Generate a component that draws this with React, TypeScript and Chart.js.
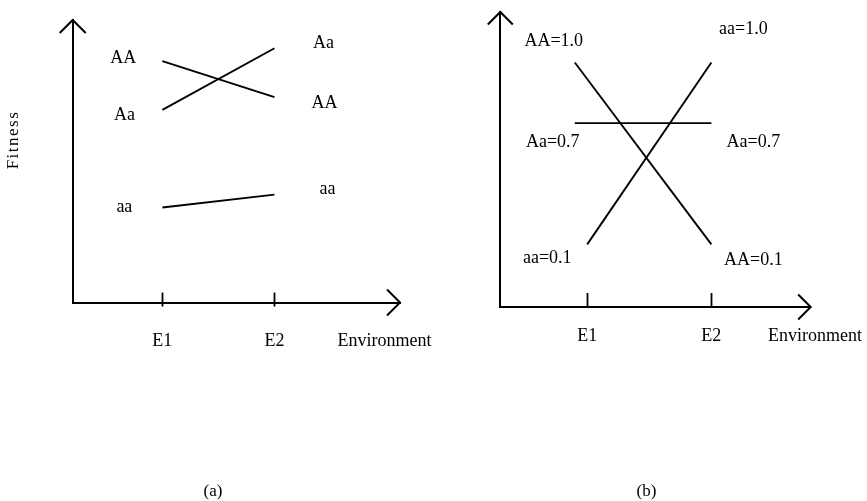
import React, { useEffect, useRef } from 'react';
import { Chart, registerables } from 'chart.js';

Chart.register(...registerables);

// ---------- data ----------
const environments = ['E1', 'E2'];
const envValues = [1, 2];
const xAxisName = 'Environment';
const yAxisName = 'Fitness';
const genotypes = ['AA', 'Aa', 'aa'];
const panelNames = ['(a)', '(b)'];

// Panel (a): relative fitness (arbitrary units) in E1, E2
const aAAx = [1, 2];
const aAA = [0.94, 0.8];
const aAax = [1, 2];
const aAa = [0.75, 0.99];
const aaax = [1, 2];
const aaa = [0.37, 0.42];

// Panel (b): fitness values in E1, E2
const bAAx = [0.9, 2];
const bAA = [1.0, 0.1];
const bAax = [0.9, 2];
const bAa = [0.7, 0.7];
const baax = [1, 2];
const baa = [0.1, 1.0];

// ---------- styling ----------
const FONT = "'Liberation Serif', 'Times New Roman', Times, serif";
const BLACK = '#000';

type Ann = { ds: number; pt: number; text: string; dx: number; dy: number };

function lineDs(label: string, xs: number[], ys: number[]) {
  return {
    label,
    data: ys.map((v, i) => ({ x: xs[i], y: v })),
    borderColor: BLACK,
    backgroundColor: BLACK,
    borderWidth: 1.9,
    pointRadius: 0,
    tension: 0,
    fill: false,
  };
}

function decoPlugin(p: any) {
  return {
    id: 'deco',
    afterDraw(chart: any) {
      const { ctx, chartArea } = chart;
      const xs = chart.scales.x;
      const L = chartArea.left, R = chartArea.right, T = chartArea.top, B = chartArea.bottom;
      ctx.save();
      ctx.strokeStyle = BLACK;
      ctx.fillStyle = BLACK;
      ctx.lineWidth = 2;
      ctx.lineJoin = 'miter';
      const a = p.arrow;
      ctx.beginPath();
      ctx.moveTo(L - a, T + a);
      ctx.lineTo(L, T);
      ctx.lineTo(L + a, T + a);
      ctx.moveTo(R - a, B - a);
      ctx.lineTo(R, B);
      ctx.lineTo(R - a, B + a);
      ctx.stroke();
      // tick marks
      ctx.beginPath();
      envValues.forEach((v) => {
        const px = Math.round(xs.getPixelForValue(v)) + 0.5;
        ctx.moveTo(px, B - p.tickUp);
        ctx.lineTo(px, B + p.tickDown);
      });
      ctx.lineWidth = 1.8;
      ctx.stroke();
      // point labels
      ctx.font = `${p.labelSize}px ${FONT}`;
      ctx.textAlign = 'center';
      ctx.textBaseline = 'middle';
      p.anns.forEach((an: Ann) => {
        const el = chart.getDatasetMeta(an.ds).data[an.pt];
        ctx.fillText(an.text, el.x + an.dx, el.y + an.dy);
      });
      // x-axis name
      ctx.font = `${p.envSize}px ${FONT}`;
      ctx.fillText(xAxisName, R + p.envDx, B + p.envDy);
      // panel name
      ctx.font = `17px ${FONT}`;
      ctx.fillText(p.panel, p.panelX, p.panelY);
      // y-axis name
      if (p.yName) {
        ctx.save();
        ctx.translate(p.yNameX, p.yNameY);
        ctx.rotate(-Math.PI / 2);
        ctx.font = `17px ${FONT}`;
        try { (ctx as any).letterSpacing = '1.5px'; } catch (e) {}
        ctx.fillText(yAxisName, 0, 0);
        ctx.restore();
      }
      ctx.restore();
    },
  };
}

function buildConfig(p: any, datasets: any[]) {
  return {
    type: 'line' as const,
    data: { datasets },
    options: {
      responsive: false,
      animation: false as const,
      layout: { padding: { top: p.top, right: p.right, left: 0, bottom: 0 } },
      plugins: {
        legend: { display: false },
        tooltip: { enabled: false },
        title: { display: false },
      },
      scales: {
        x: {
          type: 'linear' as const,
          min: p.xMin,
          max: p.xMax,
          grid: { display: false, drawTicks: false },
          border: { display: true, color: BLACK, width: 2 },
          afterBuildTicks: (s: any) => {
            s.ticks = envValues.map((v) => ({ value: v }));
          },
          afterFit: (s: any) => {
            s.height = p.xHeight;
          },
          ticks: {
            color: BLACK,
            autoSkip: false,
            maxRotation: 0,
            padding: p.tickPad,
            font: { family: FONT, size: 18 },
            callback: (_v: any, i: number) => environments[i],
          },
        },
        y: {
          type: 'linear' as const,
          min: p.yMin,
          max: p.yMax,
          grid: { display: false, drawTicks: false },
          border: { display: true, color: BLACK, width: 2 },
          ticks: { display: false },
          afterFit: (s: any) => {
            s.width = p.yWidth;
          },
        },
      },
    },
    plugins: [decoPlugin(p)],
  };
}

function Panel({ left, width, make }: { left: number; width: number; make: () => any }) {
  const ref = useRef<HTMLCanvasElement>(null);
  useEffect(() => {
    const chart = new Chart(ref.current as HTMLCanvasElement, make());
    return () => chart.destroy();
  }, []);
  return (
    <canvas
      ref={ref}
      width={width}
      height={501}
      style={{ position: 'absolute', left, top: 0, width, height: 501 }}
    />
  );
}

const A_WIDTH = 446;

const makeA = () => {
  const anns: Ann[] = [
    { ds: 0, pt: 0, text: genotypes[0], dx: -39, dy: -3 },
    { ds: 1, pt: 0, text: genotypes[1], dx: -38, dy: 5 },
    { ds: 2, pt: 0, text: genotypes[2], dx: -38, dy: 0 },
    { ds: 1, pt: 1, text: genotypes[1], dx: 49, dy: -5 },
    { ds: 0, pt: 1, text: genotypes[0], dx: 50, dy: 6 },
    { ds: 2, pt: 1, text: genotypes[2], dx: 53, dy: -5 },
  ];
  const p = {
    top: 20, right: A_WIDTH - 400, yWidth: 72.7, xHeight: 501 - 302.5,
    xMin: 0.2, xMax: 3.12, yMin: 0, yMax: 1.1,
    tickPad: 28, arrow: 13, tickUp: 10, tickDown: 4,
    labelSize: 18, anns, envSize: 18, envDx: -15.5, envDy: 38.5,
    panel: panelNames[0], panelX: 213, panelY: 492,
    yName: true, yNameX: 14, yNameY: 140,
  };
  return buildConfig(p, [
    lineDs(genotypes[0], aAAx, aAA),
    lineDs(genotypes[1], aAax, aAa),
    lineDs(genotypes[2], aaax, aaa),
  ]);
};

const makeB = () => {
  const lbl = (g: number, v: number) => `${genotypes[g]}=${v.toFixed(1)}`;
  const anns: Ann[] = [
    { ds: 0, pt: 0, text: lbl(0, bAA[0]), dx: -21, dy: -21 },
    { ds: 2, pt: 1, text: lbl(2, baa[1]), dx: 32, dy: -33 },
    { ds: 1, pt: 0, text: lbl(1, bAa[0]), dx: -22, dy: 19 },
    { ds: 1, pt: 1, text: lbl(1, bAa[1]), dx: 42, dy: 19 },
    { ds: 2, pt: 0, text: lbl(2, baa[0]), dx: -40, dy: 14 },
    { ds: 0, pt: 1, text: lbl(0, bAA[1]), dx: 42, dy: 16 },
  ];
  const p = {
    top: 12, right: 441 - 384.7, yWidth: 74.3, xHeight: 501 - 307,
    xMin: 0.3, xMax: 2.8, yMin: -0.21, yMax: 1.25,
    tickPad: 18, arrow: 12.5, tickUp: 14, tickDown: 0,
    labelSize: 18, anns, envSize: 18, envDx: 4.3, envDy: 29,
    panel: panelNames[1], panelX: 220.5, panelY: 492,
    yName: false, yNameX: 0, yNameY: 0,
  };
  return buildConfig(p, [
    lineDs(genotypes[0], bAAx, bAA),
    lineDs(genotypes[1], bAax, bAa),
    lineDs(genotypes[2], baax, baa),
  ]);
};

export default function App() {
  return (
    <div style={{ position: 'absolute', left: 0, top: 0, width: 867, height: 501, background: '#fff', overflow: 'hidden' }}>
      <Panel left={0} width={A_WIDTH} make={makeA} />
      <Panel left={426} width={441} make={makeB} />
    </div>
  );
}
